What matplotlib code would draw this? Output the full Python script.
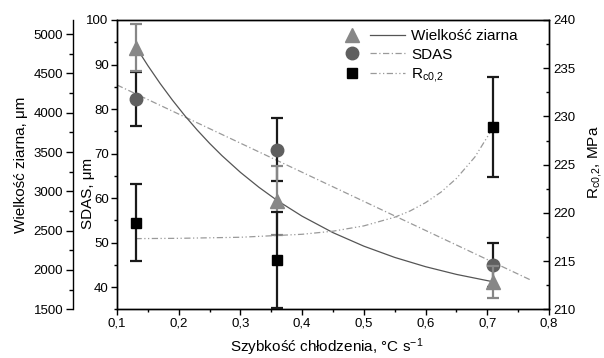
import numpy as np
import matplotlib
matplotlib.use("Agg")
import matplotlib.pyplot as plt
from matplotlib.lines import Line2D
from matplotlib.legend_handler import HandlerTuple
from matplotlib.ticker import MultipleLocator, FuncFormatter

plt.rcParams["font.family"] = ["Liberation Sans", "DejaVu Sans"]
plt.rcParams["mathtext.fontset"] = "custom"
plt.rcParams["mathtext.rm"] = "Liberation Sans"
plt.rcParams["mathtext.default"] = "regular"

# -------------------------
# Data
# -------------------------
cool_rate = [0.13, 0.36, 0.71]

grain = [4830, 2880, 1850]
grain_err = [300, 440, 200]

sdas = [82.2, 70.9, 45.0]
sdas_err = [6.1, 7.0, 5.0]

rc = [219.0, 215.1, 228.9]
rc_err = [4.0, 5.0, 5.2]

# fitted curves
grain_fit_x = [0.13, 0.15, 0.17, 0.19, 0.21, 0.23, 0.25, 0.27, 0.3, 0.33, 0.36,
               0.4, 0.45, 0.5, 0.55, 0.6, 0.65, 0.71]
grain_fit_y = [4846, 4600, 4371, 4159, 3962, 3780, 3611, 3455, 3242, 3052, 2882,
               2684, 2475, 2303, 2160, 2042, 1944, 1849]

sdas_fit_x = [0.1, 0.77]
sdas_fit_y = [85.4, 41.6]

rc_fit_x = [0.13, 0.2, 0.3, 0.4, 0.45, 0.5, 0.55, 0.575, 0.6, 0.625, 0.65, 0.68, 0.71]
rc_fit_y = [217.33, 217.36, 217.47, 217.78, 218.1, 218.65, 219.55, 220.2, 221.06,
            222.15, 223.57, 225.8, 228.9]

# -------------------------
# Colours
# -------------------------
c_tri = "#878787"
c_circ = "#5f5f5f"
c_sq = "#000000"
c_fit_grain = "#555555"
c_fit_light = "#9a9a9a"

W, H = 604, 358
fig = plt.figure(figsize=(W / 100, H / 100), dpi=100)
left, right, top, bottom = 117, 549, 20, 309.3
ax = fig.add_axes([left / W, 1 - bottom / H, (right - left) / W, (bottom - top) / H])

ax_g = ax.twinx()
ax_r = ax.twinx()

# SDAS axis (inner left)
ax.set_xlim(0.1, 0.8)
ax.set_ylim(35, 100)
ax.plot(sdas_fit_x, sdas_fit_y, color=c_fit_light, lw=0.9, ls=(0, (5, 2, 1, 2)))
ax.errorbar(cool_rate, sdas, yerr=sdas_err, fmt="o", color=c_circ, ms=9,
            ecolor="#1a1a1a", elinewidth=1.6, capsize=4.5, capthick=1.6, zorder=3)

# grain size axis (outer left)
ax_g.set_ylim(1500, 5180)
ax_g.plot(grain_fit_x, grain_fit_y, color=c_fit_grain, lw=0.9)
ax_g.errorbar(cool_rate, grain, yerr=grain_err, fmt="^", color=c_tri, ms=10,
              ecolor=c_tri, elinewidth=1.6, capsize=4.5, capthick=1.6, zorder=3)

# Rc0,2 axis (right)
ax_r.set_ylim(210, 240)
ax_r.plot(rc_fit_x, rc_fit_y, color=c_fit_light, lw=0.9, ls=(0, (5, 2, 1, 2, 1, 2)))
ax_r.errorbar(cool_rate, rc, yerr=rc_err, fmt="s", color=c_sq, ms=7.5,
              ecolor="#1a1a1a", elinewidth=1.6, capsize=4.5, capthick=1.6, zorder=3)

# -------------------------
# Axes styling
# -------------------------
comma = FuncFormatter(lambda v, p: ("%g" % v).replace(".", ","))

ax.xaxis.set_major_locator(MultipleLocator(0.1))
ax.xaxis.set_minor_locator(MultipleLocator(0.05))
ax.xaxis.set_major_formatter(comma)
ax.yaxis.set_major_locator(MultipleLocator(10))
ax.yaxis.set_minor_locator(MultipleLocator(5))
ax.tick_params(axis="both", which="both", direction="out", labelsize=9.5, width=1, pad=2)
ax.tick_params(which="major", length=4)
ax.tick_params(which="minor", length=2.5)
ax.tick_params(axis="x", top=False)

ax_g.spines["left"].set_position(("outward", 44 * 0.72))
ax_g.spines["left"].set_visible(True)
for s in ["right", "top", "bottom"]:
    ax_g.spines[s].set_visible(False)
ax_g.yaxis.set_ticks_position("left")
ax_g.yaxis.set_label_position("left")
ax_g.yaxis.set_major_locator(MultipleLocator(500))
ax_g.yaxis.set_minor_locator(MultipleLocator(250))
ax_g.tick_params(axis="y", which="both", direction="out", labelsize=9.5, width=1, pad=2)
ax_g.tick_params(which="major", length=5)
ax_g.tick_params(which="minor", length=3)

ax_r.yaxis.set_major_locator(MultipleLocator(5))
ax_r.yaxis.set_minor_locator(MultipleLocator(2.5))
ax_r.tick_params(axis="y", which="both", direction="in", labelsize=9.5, width=1, pad=3)
ax_r.tick_params(which="major", length=4)
ax_r.tick_params(which="minor", length=2.5)

for a in (ax, ax_g, ax_r):
    for s in a.spines.values():
        s.set_linewidth(1.0)

# labels
ax.set_xlabel(r"Szybkość chłodzenia, °C s$^{-1}$", fontsize=11)
ax.xaxis.set_label_coords(0.486, -0.095)
ax.set_ylabel("SDAS, μm", fontsize=11)
ax.yaxis.set_label_coords(-0.05, 0.40)
ax_g.set_ylabel("Wielkość ziarna, μm", fontsize=11)
ax_g.yaxis.set_label_coords(-0.205, 0.5)
ax_r.set_ylabel(r"R$_{c0{,}2}$, MPa", fontsize=11)
ax_r.yaxis.set_label_coords(1.085, 0.51)

# legend: marker and line side by side
h_g = (Line2D([], [], marker="^", color=c_tri, ls="none", ms=10),
       Line2D([], [], color=c_fit_grain, lw=0.9))
h_s = (Line2D([], [], marker="o", color=c_circ, ls="none", ms=9),
       Line2D([], [], color=c_fit_light, lw=0.9, ls=(0, (5, 2, 1, 2))))
h_r = (Line2D([], [], marker="s", color=c_sq, ls="none", ms=7.5),
       Line2D([], [], color=c_fit_light, lw=0.9, ls=(0, (5, 2, 1, 2, 1, 2))))
ax_r.legend([h_g, h_s, h_r], ["Wielkość ziarna", "SDAS", r"R$_{c0{,}2}$"],
            handler_map={tuple: HandlerTuple(ndivide=2, pad=0.0)},
            loc="upper left", bbox_to_anchor=(0.49, 0.99), borderaxespad=0,
            frameon=False, handlelength=4.6, handletextpad=0.4,
            labelspacing=0.3, fontsize=11)

fig.savefig("out.png", dpi=100)
